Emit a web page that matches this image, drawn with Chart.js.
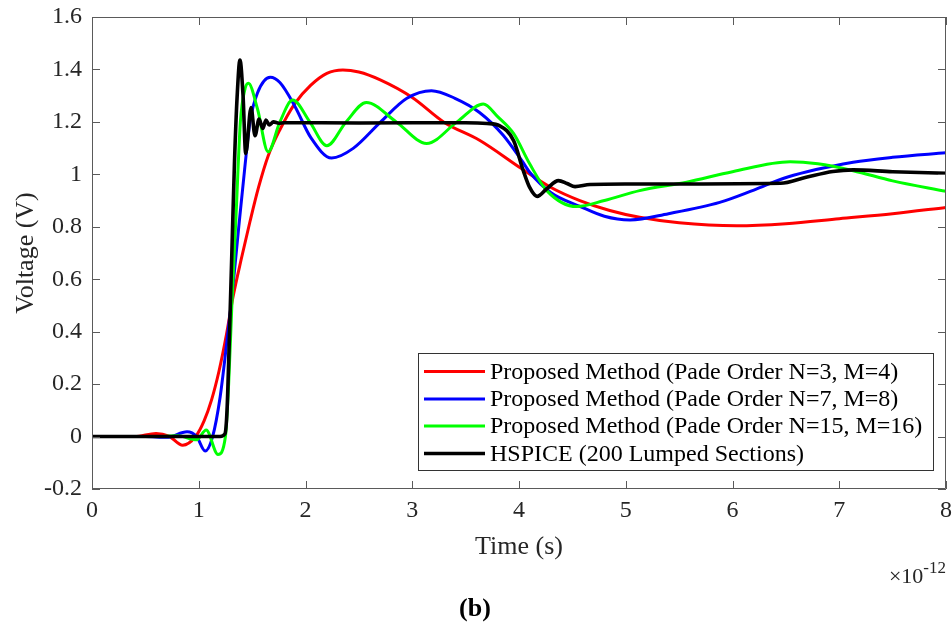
<!DOCTYPE html>
<html><head><meta charset="utf-8">
<script src="https://cdn.jsdelivr.net/npm/chart.js@4.4.1/dist/chart.umd.min.js"></script>
<style>html,body{margin:0;padding:0;background:#fff;}canvas{display:block;}</style>
</head><body>
<canvas id="c" width="952" height="624"></canvas>
<script>
// ---- data (time in units of 1e-12 s, voltage in V) ----
const seriesLabels = [
  'Proposed Method (Pade Order N=3, M=4)',
  'Proposed Method (Pade Order N=7, M=8)',
  'Proposed Method (Pade Order N=15, M=16)',
  'HSPICE (200 Lumped Sections)'
];
const seriesColors = ['#ff0000', '#0000ff', '#00ff00', '#000000'];

const redPts = [[0,0],[0.4,0],[0.6,0.012],[0.72,0.002],[0.85,-0.033],[0.97,0],[1.05,0.06],[1.12,0.14],[1.19,0.25],[1.26,0.39],[1.32,0.53],[1.4,0.68],[1.48,0.82],[1.56,0.95],[1.65,1.07],[1.76,1.17],[1.9,1.27],[2.05,1.34],[2.2,1.385],[2.35,1.398],[2.5,1.39],[2.7,1.36],[3.0,1.293],[3.3,1.198],[3.63,1.13],[4.03,1.02],[4.3,0.95],[4.57,0.90],[4.85,0.862],[5.13,0.836],[5.5,0.815],[6.04,0.804],[6.5,0.812],[7.0,0.831],[7.5,0.85],[8.0,0.874]];

const bluePts = [[0,0],[0.5,0],[0.7,-0.003],[0.89,0.018],[0.98,0],[1.06,-0.055],[1.13,0],[1.2,0.15],[1.26,0.35],[1.31,0.53],[1.37,0.78],[1.43,1.02],[1.48,1.2],[1.55,1.31],[1.67,1.37],[1.76,1.35],[1.9,1.26],[2.05,1.14],[2.245,1.062],[2.45,1.1],[2.7,1.198],[2.95,1.29],[3.18,1.319],[3.4,1.29],[3.63,1.236],[3.85,1.15],[4.03,1.05],[4.1,1.008],[4.3,0.93],[4.57,0.878],[4.8,0.84],[5.04,0.826],[5.4,0.85],[5.88,0.893],[6.2,0.94],[6.51,0.989],[7.13,1.046],[7.5,1.065],[8.0,1.082]];

const greenPts = [[0,0],[0.6,0],[0.8,0.003],[0.98,-0.012],[1.07,0.025],[1.18,-0.068],[1.25,0],[1.28,0.2],[1.31,0.5],[1.35,0.85],[1.39,1.2],[1.43,1.32],[1.465,1.347],[1.55,1.25],[1.65,1.086],[1.76,1.2],[1.88,1.283],[2.04,1.2],[2.2,1.109],[2.38,1.2],[2.57,1.274],[2.85,1.2],[3.135,1.118],[3.42,1.2],[3.665,1.268],[3.8,1.22],[3.95,1.155],[4.1,1.04],[4.26,0.938],[4.54,0.877],[4.8,0.9],[5.13,0.938],[5.57,0.97],[6.0,1.01],[6.54,1.048],[6.8,1.04],[7.13,1.014],[7.5,0.975],[8.0,0.935]];

const blackPts = [[0,0],[1.2,0],[1.245,0.01],[1.265,0.1],[1.285,0.35],[1.31,0.7],[1.335,1.05],[1.36,1.3],[1.386,1.436],[1.415,1.3],[1.44,1.079],[1.49,1.255],[1.527,1.147],[1.565,1.211],[1.6,1.175],[1.63,1.207],[1.66,1.188],[1.7,1.2],[1.75,1.195],[1.8,1.197],[2.5,1.196],[3.5,1.197],[3.7,1.194],[3.82,1.185],[3.95,1.128],[4.04,1.014],[4.1,0.95],[4.17,0.916],[4.26,0.945],[4.37,0.976],[4.45,0.965],[4.525,0.953],[4.665,0.961],[5.0,0.963],[6.45,0.966],[6.69,0.989],[6.94,1.011],[7.13,1.017],[7.5,1.01],[8.0,1.004]];

const xTicks = [0,1,2,3,4,5,6,7,8];
const yTicks = [-0.2,0,0.2,0.4,0.6,0.8,1,1.2,1.4,1.6];
const xTitle = 'Time (s)';
const yTitle = 'Voltage (V)';
const xExpBase = '\u00d710';
const xExp = '-12';
const caption = '(b)';

// ---- chart ----
const FONT = '"Liberation Serif", "Times New Roman", serif';
const TXT = '#262626';
const AXC = '#5a5a5a';
const allPts = [redPts, bluePts, greenPts, blackPts];
const widths = [3, 3, 3, 3.6];

const datasets = allPts.map((pts, i) => ({
  label: seriesLabels[i],
  data: pts.map(([x, y]) => ({x, y})),
  borderColor: seriesColors[i],
  backgroundColor: seriesColors[i],
  borderWidth: widths[i],
  pointRadius: 0,
  fill: false,
  cubicInterpolationMode: 'monotone',
  order: 3 - i
}));

const decor = {
  id: 'decor',
  afterDatasetsDraw(chart) {
    const {ctx, chartArea: {left, right, top, bottom}, scales: {x, y}} = chart;
    ctx.save();
    ctx.strokeStyle = AXC;
    ctx.lineWidth = 1;
    ctx.beginPath();
    ctx.rect(Math.round(left) + 0.5, Math.round(top) + 0.5, Math.round(right - left) - 1, Math.round(bottom - top) - 1);
    const TL = 8;
    x.ticks.forEach(t => {
      const p = Math.round(x.getPixelForValue(t.value)) + 0.5;
      ctx.moveTo(p, bottom); ctx.lineTo(p, bottom - TL);
      ctx.moveTo(p, top); ctx.lineTo(p, top + TL);
    });
    y.ticks.forEach(t => {
      const p = Math.round(y.getPixelForValue(t.value)) + 0.5;
      ctx.moveTo(left, p); ctx.lineTo(left + TL, p);
      ctx.moveTo(right, p); ctx.lineTo(right - TL, p);
    });
    ctx.stroke();

    // legend
    const bx = 418.5, by = 353.5, bw = 515, bh = 117;
    ctx.fillStyle = '#fff';
    ctx.fillRect(bx, by, bw, bh);
    ctx.strokeStyle = '#333';
    ctx.strokeRect(bx, by, bw, bh);
    const rows = [371.5, 399, 426, 453.5];
    ctx.font = '24px ' + FONT;
    ctx.textBaseline = 'middle';
    ctx.textAlign = 'left';
    chart.data.datasets.forEach((ds, i) => {
      ctx.strokeStyle = ds.borderColor;
      ctx.lineWidth = ds.borderWidth;
      ctx.beginPath();
      ctx.moveTo(424, rows[i]); ctx.lineTo(485, rows[i]);
      ctx.stroke();
      ctx.fillStyle = '#000';
      ctx.fillText(ds.label, 490, rows[i] + 1);
    });
    ctx.restore();
  },
  afterDraw(chart) {
    const {ctx, chartArea: {left, right, top, bottom}} = chart;
    ctx.save();
    ctx.fillStyle = TXT;
    ctx.textBaseline = 'alphabetic';
    ctx.textAlign = 'center';
    ctx.font = '26px ' + FONT;
    ctx.fillText(xTitle, (left + right) / 2, 554);
    // y title
    ctx.save();
    ctx.translate(33, (top + bottom) / 2);
    ctx.rotate(-Math.PI / 2);
    ctx.fillText(yTitle, 0, 0);
    ctx.restore();
    // exponent
    ctx.textAlign = 'right';
    ctx.font = '17px ' + FONT;
    const ew = ctx.measureText(xExp).width;
    ctx.fillText(xExp, right, 573);
    ctx.font = '22px ' + FONT;
    ctx.fillText(xExpBase, right - ew, 583);
    // caption
    ctx.fillStyle = '#000';
    ctx.textAlign = 'center';
    ctx.font = 'bold 26px ' + FONT;
    ctx.fillText(caption, 475, 616);
    ctx.restore();
  }
};

new Chart(document.getElementById('c'), {
  type: 'line',
  data: {datasets},
  options: {
    responsive: false,
    animation: false,
    devicePixelRatio: 1,
    layout: {padding: {left: 0, right: 6, top: 17, bottom: 0}},
    plugins: {legend: {display: false}, tooltip: {enabled: false}},
    scales: {
      x: {
        type: 'linear', min: 0, max: 8,
        afterBuildTicks: s => { s.ticks = xTicks.map(v => ({value: v})); },
        afterFit: s => { s.height = 135; s.paddingLeft = 0; s.paddingRight = 0; },
        grid: {display: false, drawTicks: false},
        border: {display: false},
        ticks: {font: {family: FONT, size: 24}, color: TXT, padding: 7, maxRotation: 0,
          callback: v => String(v)}
      },
      y: {
        type: 'linear', min: -0.2, max: 1.6,
        afterBuildTicks: s => { s.ticks = yTicks.map(v => ({value: v})); },
        afterFit: s => { s.width = 92; s.paddingTop = 0; s.paddingBottom = 0; },
        grid: {display: false, drawTicks: false},
        border: {display: false},
        ticks: {font: {family: FONT, size: 24}, color: TXT, padding: 10,
          callback: v => String(Math.round(v * 10) / 10)}
      }
    }
  },
  plugins: [decor]
});
</script>
</body></html>
